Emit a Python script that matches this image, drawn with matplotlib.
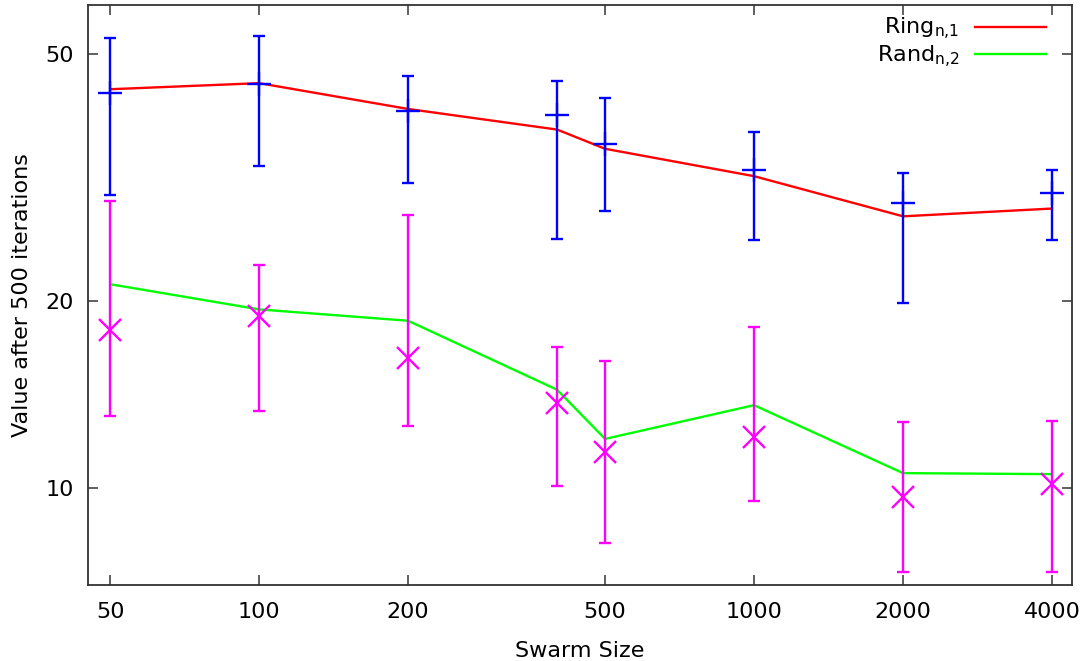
import matplotlib
matplotlib.use("Agg")
import matplotlib.pyplot as plt
from matplotlib.ticker import FixedLocator, FixedFormatter, NullLocator

# swarm sizes
sizes = [50, 100, 200, 400, 500, 1000, 2000, 4000]

# Ring_{n,1}: line values and error bar (mean, low, high)
ring_line = [43.9, 44.9, 40.8, 37.8, 35.2, 31.8, 27.4, 28.2]
ring_mean = [43.3, 44.7, 40.5, 39.9, 35.8, 32.5, 28.8, 29.9]
ring_low = [29.6, 33.0, 31.0, 25.2, 27.9, 25.1, 19.9, 25.1]
ring_high = [53.0, 53.4, 46.1, 45.2, 42.5, 37.4, 32.2, 32.5]

# Rand_{n,2}
rand_line = [21.3, 19.4, 18.6, 14.4, 12.0, 13.6, 10.57, 10.53]
rand_mean = [17.97, 18.9, 16.2, 13.7, 11.43, 12.08, 9.67, 10.15]
rand_low = [13.06, 13.3, 12.6, 10.07, 8.15, 9.53, 7.32, 7.32]
rand_high = [29.0, 22.9, 27.5, 16.9, 16.0, 18.2, 12.77, 12.82]

xticks = [50, 100, 200, 500, 1000, 2000, 4000]
yticks = [10, 20, 50]

plt.rcParams["font.family"] = ["DejaVu Sans"]
plt.rcParams["font.size"] = 16

fig = plt.figure(figsize=(10.82, 6.61), dpi=100)
ax = fig.add_axes([88 / 1082, 76 / 661, 984 / 1082, 580 / 661])

ax.plot(sizes, ring_line, color="#ff0000", lw=1.7,
        label="$\\mathregular{Ring_{n{,}1}}$")
ax.plot(sizes, rand_line, color="#00ff00", lw=1.7,
        label="$\\mathregular{Rand_{n{,}2}}$")

ring_err = [[m - lo for m, lo in zip(ring_mean, ring_low)],
            [hi - m for m, hi in zip(ring_mean, ring_high)]]
rand_err = [[m - lo for m, lo in zip(rand_mean, rand_low)],
            [hi - m for m, hi in zip(rand_mean, rand_high)]]

ax.errorbar(sizes, ring_mean, yerr=ring_err, fmt="+", color="#0000ff",
            ms=17, mew=1.7, elinewidth=1.7, capsize=4, capthick=1.7)
ax.errorbar(sizes, rand_mean, yerr=rand_err, fmt="x", color="#ff00ff",
            ms=16, mew=1.7, elinewidth=1.7, capsize=4, capthick=1.7)

ax.set_xscale("log")
ax.set_yscale("log")
ax.set_xlim(45.1, 4390)
ax.set_ylim(6.98, 60)

ax.xaxis.set_major_locator(FixedLocator(xticks))
ax.xaxis.set_major_formatter(FixedFormatter([str(t) for t in xticks]))
ax.xaxis.set_minor_locator(NullLocator())
ax.yaxis.set_major_locator(FixedLocator(yticks))
ax.yaxis.set_major_formatter(FixedFormatter([str(t) for t in yticks]))
ax.yaxis.set_minor_locator(NullLocator())
ax.tick_params(direction="in", length=7, width=1.2, color="#444444",
               top=True, right=True, labelsize=16)
ax.tick_params(axis="x", pad=12)
ax.tick_params(axis="y", pad=10)

for s in ax.spines.values():
    s.set_color("#333333")
    s.set_linewidth(1.3)

ax.set_xlabel("Swarm Size", fontsize=16, labelpad=14)
ax.set_ylabel("Value after 500 iterations", fontsize=16, labelpad=10)

ax.legend(loc="upper right", frameon=False, markerfirst=False, fontsize=16,
          handlelength=3.2, handletextpad=0.7, labelspacing=0.05,
          borderaxespad=0.1, bbox_to_anchor=(0.985, 1.0))

fig.savefig("out.png", dpi=100)
